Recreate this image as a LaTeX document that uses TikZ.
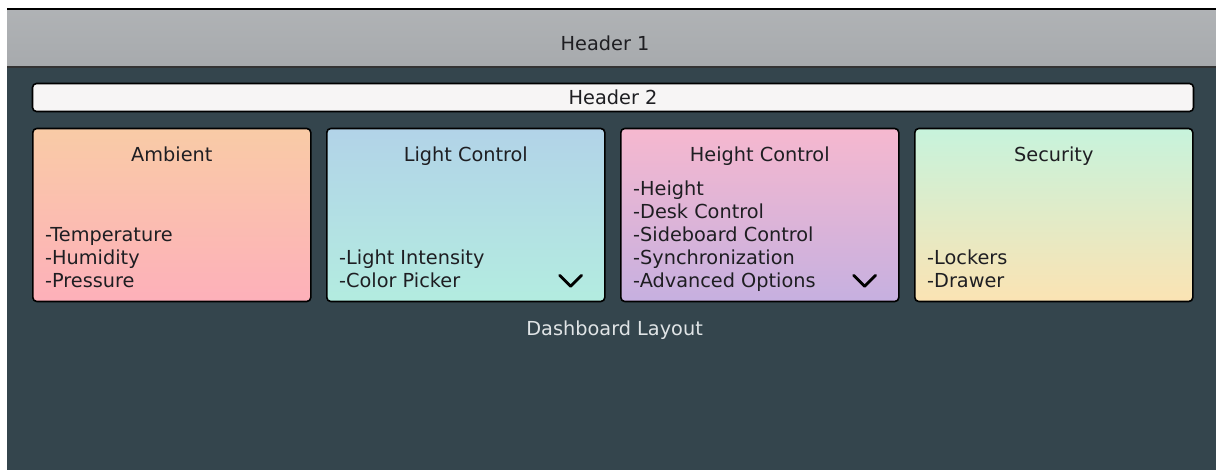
\documentclass[tikz,border=0pt]{standalone}
\usepackage{fontspec}
\setmainfont{DejaVu Sans}
\usetikzlibrary{positioning,calc}
\definecolor{boarddark}{RGB}{52,69,77}
\definecolor{headgray}{RGB}{167,170,173}
\definecolor{barwhite}{RGB}{247,245,245}
\definecolor{inkdark}{RGB}{30,30,34}
\definecolor{captiongray}{RGB}{224,228,230}
\definecolor{ambtop}{RGB}{249,203,166}
\definecolor{ambbot}{RGB}{253,176,186}
\definecolor{lctop}{RGB}{178,211,232}
\definecolor{lcbot}{RGB}{179,236,224}
\definecolor{hctop}{RGB}{246,184,207}
\definecolor{hcbot}{RGB}{198,176,224}
\definecolor{sectop}{RGB}{199,243,220}
\definecolor{secbot}{RGB}{251,227,179}
\tikzset{
  card-node/.style={draw=black, line width=1.6pt, rounded corners=4pt,
    minimum width=278pt, minimum height=173pt, inner sep=0pt},
  bar-node/.style={draw=black, line width=1.6pt, rounded corners=4pt, fill=barwhite,
    minimum width=1161pt, minimum height=28pt, inner sep=0pt, text=inkdark},
  title-text/.style={font=\fontsize{19.3}{23}\selectfont, text=inkdark, inner sep=0pt,
    text height=14pt, text depth=4pt},
  list-text/.style={font=\fontsize{19.3}{23}\selectfont, text=inkdark, inner sep=0pt,
    align=left, text depth=0pt},
  chevron-mark/.style={draw=black, line width=2.8pt, line cap=round, line join=round},
  caption-text/.style={font=\fontsize{19.3}{23}\selectfont, text=captiongray, inner sep=0pt}
}

\begin{document}
\begin{tikzpicture}[x=1pt, y=-1pt, node distance=14.4pt and 14.4pt]
\useasboundingbox (0,0) rectangle (1216,470);
% Board background and top header strip
\fill[boarddark] (7,9) rectangle (1216,470);
\shade[top color=headgray!90!white, bottom color=headgray] (7,9) rectangle (1216,67);
\draw[black, line width=2pt] (7,9) -- (1216,9);
\draw[black!80, line width=2pt] (7,67) -- (1216,67);
\coordinate (h1) at (605,38);
\node[font=\fontsize{19.3}{23}\selectfont, text=inkdark, yshift=-5pt] (h1text) at (h1) {Header 1};

% Second header bar
\node[bar-node, font=\fontsize{19.3}{23}\selectfont] (h2) at (613,97.5) {Header 2};

% Group of dashboard cards
\node[card-node, top color=ambtop, bottom color=ambbot] (amb) at (171.8,215) {};
\node[card-node, right=of amb, top color=lctop, bottom color=lcbot] (lc) {};
\node[card-node, right=of lc, top color=hctop, bottom color=hcbot] (hc) {};
\node[card-node, right=of hc, top color=sectop, bottom color=secbot] (sec) {};

% Card titles
\node[title-text, below=20pt of amb.north] (ambtitle) {Ambient};
\node[title-text, below=20pt of lc.north] (lctitle) {Light Control};
\node[title-text, below=20pt of hc.north] (hctitle) {Height Control};
\node[title-text, below=20pt of sec.north] (sectitle) {Security};

% Card entries
\node[list-text, above right=15pt and 13pt of amb.south west] (amblist) {-Temperature\\-Humidity\\-Pressure};
\node[list-text, above right=15pt and 13pt of lc.south west] (lclist) {-Light Intensity\\-Color Picker};
\node[list-text, above right=15pt and 13pt of hc.south west] (hclist) {-Height\\-Desk Control\\-Sideboard Control\\-Synchronization\\-Advanced Options};
\node[list-text, above right=15pt and 13pt of sec.south west] (seclist) {-Lockers\\-Drawer};

% Expand marks
\draw[chevron-mark] ($(lc.south east)+(-46,-27)$) -- ++(11,11) -- ++(11,-11);
\draw[chevron-mark] ($(hc.south east)+(-46,-27)$) -- ++(11,11) -- ++(11,-11);

\node[caption-text, below=18pt of lc.south east, xshift=9pt] (caption) {Dashboard Layout};
\end{tikzpicture}
\end{document}
